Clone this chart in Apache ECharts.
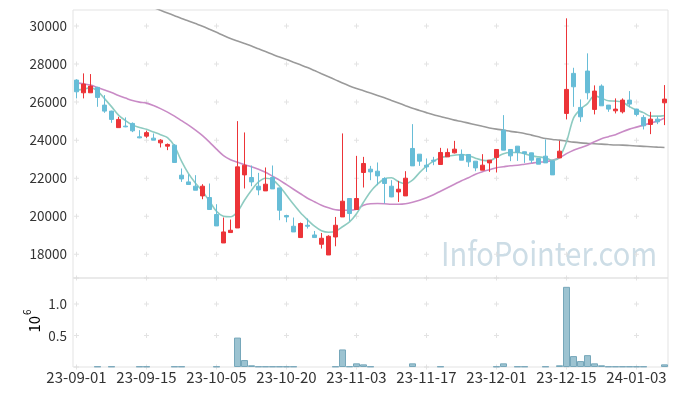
<!DOCTYPE html>
<html><head><meta charset="utf-8">
<script src="https://cdn.jsdelivr.net/npm/echarts@6/dist/echarts.min.js"></script>
<style>html,body{margin:0;padding:0;background:#fff}#c{width:677px;height:396px}</style>
</head><body><div id="c"></div>
<script>
const dates = ['23-09-01','23-09-04','23-09-05','23-09-06','23-09-07','23-09-08','23-09-11','23-09-12','23-09-13','23-09-14',
'23-09-15','23-09-18','23-09-19','23-09-20','23-09-21','23-09-22','23-09-25','23-09-26','23-09-27','23-10-04',
'23-10-05','23-10-06','23-10-10','23-10-11','23-10-12','23-10-13','23-10-16','23-10-17','23-10-18','23-10-19',
'23-10-20','23-10-23','23-10-24','23-10-25','23-10-26','23-10-27','23-10-30','23-10-31','23-11-01','23-11-02',
'23-11-03','23-11-06','23-11-07','23-11-08','23-11-09','23-11-10','23-11-13','23-11-14','23-11-15','23-11-16',
'23-11-17','23-11-20','23-11-21','23-11-22','23-11-23','23-11-24','23-11-27','23-11-28','23-11-29','23-11-30',
'23-12-01','23-12-04','23-12-05','23-12-06','23-12-07','23-12-08','23-12-11','23-12-12','23-12-13','23-12-14',
'23-12-15','23-12-18','23-12-19','23-12-20','23-12-21','23-12-22','23-12-26','23-12-27','23-12-28','24-01-02',
'24-01-03','24-01-04','24-01-05','24-01-08','24-01-09'];

const opens = [27158,26490,26490,26774,25842,25526,24658,24737,24880,24174,
24210,24105,23858,23684,23737,22158,21805,21579,21068,20984,
20090,18595,19142,19384,22174,22037,21579,21332,22037,21490,
20037,19474,18879,19526,19016,18526,17963,18910,19963,20932,
20353,22300,22474,22368,21984,21579,21279,21068,23563,23263,
22684,22947,22721,23121,23332,23247,23247,22895,22421,22805,
23090,24526,23510,23684,23390,23332,23037,23158,22910,23068,
25405,27510,25721,27632,25616,26842,25842,25542,25490,26105,
25632,25195,24826,25105,25963];
const closes = [26542,26947,26842,26247,25526,25090,25090,24700,24490,24121,
24395,24000,24000,23774,22826,21963,21668,21368,21579,20353,
19490,19174,19263,22595,22684,21805,21384,21684,21437,20316,
19963,19174,19616,19474,18879,18842,18947,19526,20790,20142,
20932,22774,22332,22121,21721,21016,21421,22000,22647,22895,
22595,22895,23353,23353,23526,22947,22858,22542,22684,22947,
23510,23474,23174,23353,23300,22947,22737,22805,22174,23421,
26668,26805,25226,26490,26579,25805,25632,25632,26105,25895,
25353,24753,25105,24963,26158];
const lows = [26195,26195,26490,25753,25437,24910,24658,24680,24421,24100,
24120,24000,23616,23474,22826,21805,21668,21368,20895,20353,
19490,18595,19142,19384,21458,21579,21105,21332,21437,19790,
19684,19174,18879,19353,18879,18300,17963,18421,19963,19753,
20353,21510,21895,21632,20668,21000,20753,21068,22647,22647,
22332,22684,22721,23121,23300,22947,22595,22368,22421,22332,
22300,23474,22895,22910,22805,22800,22737,22800,22174,23068,
25090,25753,24963,26142,25353,25805,25490,25405,25405,25721,
25250,24563,24316,24842,24790];
const highs = [27200,27510,27474,26800,26368,25550,25226,25195,24932,24526,
24500,24352,24050,23826,23790,22510,22210,22158,21684,21721,
20632,19932,19826,25000,24405,22668,22279,22563,22668,21490,
20050,19932,19670,19879,19226,19121,19000,19963,24353,20950,
23174,23121,22647,22826,22050,21895,21858,22368,24842,23263,
23037,23121,23595,23563,23963,23510,23260,22900,23263,22960,
23520,25316,23520,23690,23400,23340,23040,24037,22920,23963,
30405,27805,26142,28563,26879,26932,25850,26195,26195,26579,
25650,25316,25490,25263,26895];

const volumes = [0,0,0,8000,0,8000,0,0,0,8000,
8000,0,0,0,8000,8000,0,0,0,0,
8000,0,0,466000,110000,27000,8000,8000,8000,8000,
8000,8000,0,0,0,0,0,8000,278000,10000,
58000,42000,8000,0,0,0,0,0,58000,0,
0,0,8000,0,0,0,0,0,0,0,
8000,58000,0,8000,8000,0,0,8000,0,27000,
1270000,173000,94000,188000,58000,27000,8000,8000,8000,8000,
8000,8000,0,0,42000];

const maShort = [26632,26668,26763,26579,26184,25763,25316,25026,24790,24669,
24569,24427,24285,24132,23684,22895,22237,21737,21316,20790,
20263,20000,19974,20237,20842,21368,21805,22000,21921,21579,
21105,20632,20184,19816,19474,19237,19158,19210,19447,19700,
20132,20737,21290,21684,21974,22026,21816,21710,21895,22290,
22632,22895,23079,23158,23210,23247,23184,23053,22947,22921,
23105,23290,23353,23353,23290,23174,23121,23068,22947,23105,
23910,25158,25632,25921,26342,26210,26068,26053,26000,25763,
25579,25447,25263,25263,25290];
const maMid = [27016,26958,26895,26763,26632,26500,26342,26211,26079,26000,
25947,25816,25658,25474,25263,25026,24790,24526,24237,23895,
23526,23184,22974,22842,22711,22605,22474,22316,22105,21895,
21658,21421,21184,20947,20763,20579,20447,20342,20316,20316,
20368,20579,20658,20668,20658,20632,20632,20658,20737,20842,
20974,21132,21316,21500,21684,21869,22026,22211,22342,22447,
22553,22605,22658,22684,22737,22790,22842,22868,22947,23079,
23290,23474,23605,23737,23921,24079,24184,24290,24447,24579,
24684,24790,24895,25000,25158];
const maLong = [null,null,null,null,null,null,null,null,null,null,
null,30974,30826,30684,30542,30395,30263,30126,29989,29832,
29668,29500,29342,29211,29079,28947,28800,28658,28511,28368,
28237,28095,27958,27816,27658,27495,27332,27168,27000,26853,
26721,26600,26474,26353,26226,26089,25953,25811,25674,25563,
25447,25337,25247,25147,25053,24979,24895,24811,24726,24642,
24579,24526,24463,24411,24353,24263,24174,24084,24037,24000,
23947,23895,23858,23832,23811,23790,23768,23747,23737,23716,
23695,23674,23653,23632,23616];

const priceTicks = [18000,20000,22000,24000,26000,28000,30000];
const volTicks = [500000,1000000];
const xTickEvery = 10;

const FONT = 'Noto Sans CJK KR';
const candleData = opens.map((o,i)=>[o, closes[i], lows[i], highs[i]]);
const volData = volumes.map(v => v > 0 ? v : null);
const xTickCats = dates.filter((d,i)=> i % xTickEvery === 0);
const PMIN = 16753, PMAX = 30842, VMAX = 1410000;
const crossP = [];
xTickCats.forEach(c=>{ priceTicks.concat([PMIN]).forEach(v=>crossP.push([c,v])); });
const crossV = [];
xTickCats.forEach(c=>{ [0].concat(volTicks).forEach(v=>crossV.push([c,v])); });
const plus = 'path://M2,0H3V2H5V3H3V5H2V3H0V2H2Z';

const chart = echarts.init(document.getElementById('c'), null, {renderer:'canvas'});
chart.setOption({
  animation:false,
  backgroundColor:'#fff',
  grid:[
    {left:73, top:10, right:9, height:268, show:true, borderColor:'#e3e3e3', borderWidth:1},
    {left:73, top:278, right:9, height:89, show:true, borderColor:'#e3e3e3', borderWidth:1}
  ],
  xAxis:[
    {type:'category', gridIndex:0, data:dates, boundaryGap:true,
     axisLine:{show:false}, axisTick:{show:false}, axisLabel:{show:false}, splitLine:{show:false}},
    {type:'category', gridIndex:1, data:dates, boundaryGap:true,
     axisLine:{show:false}, axisTick:{show:false}, splitLine:{show:false},
     axisLabel:{interval:xTickEvery-1, color:'#333', fontFamily:FONT, fontSize:15, margin:3}}
  ],
  yAxis:[
    {type:'value', gridIndex:0, min:PMIN, max:PMAX, scale:true,
     axisLine:{show:false}, axisTick:{show:false}, splitLine:{show:false},
     axisLabel:{customValues:priceTicks, color:'#333', fontFamily:FONT, fontSize:13.5, margin:6,
       formatter:v=>String(v)}},
    {type:'value', gridIndex:1, min:0, max:VMAX,
     axisLine:{show:false}, axisTick:{show:false}, splitLine:{show:false},
     axisLabel:{customValues:volTicks, color:'#333', fontFamily:FONT, fontSize:13.5, margin:6,
       formatter:v=>(v/1e6).toFixed(1)}}
  ],
  graphic:[
    {type:'text', left:441, top:237, z:0, silent:true, scaleX:0.88,
     style:{text:'InfoPointer.com', font:'33px "Noto Sans CJK KR"', fill:'#cddde6'}},
    {type:'text', x:32, y:321, rotation:Math.PI/2, silent:true,
     style:{text:'{a|10}{b|6}', align:'center', verticalAlign:'middle',
       rich:{a:{fontFamily:FONT, fontSize:15, color:'#333', lineHeight:20, verticalAlign:'bottom'},
             b:{fontFamily:FONT, fontSize:10, color:'#333', lineHeight:20, verticalAlign:'top', padding:[0,0,0,1]}}}}
  ],
  series:[
    {type:'scatter', xAxisIndex:0, yAxisIndex:0, data:crossP, symbol:plus, symbolSize:5, clip:false,
     itemStyle:{color:'#dcdcdc'}, silent:true, z:1},
    {type:'scatter', xAxisIndex:1, yAxisIndex:1, data:crossV, symbol:plus, symbolSize:5, clip:false,
     itemStyle:{color:'#dcdcdc'}, silent:true, z:1},
    {type:'line', xAxisIndex:0, yAxisIndex:0, data:maLong, showSymbol:false, smooth:0.3,
     lineStyle:{color:'#9a9a9a', width:1.6}, z:2},
    {type:'line', xAxisIndex:0, yAxisIndex:0, data:maMid, showSymbol:false, smooth:0.3,
     lineStyle:{color:'#c98bc6', width:1.6}, z:2},
    {type:'line', xAxisIndex:0, yAxisIndex:0, data:maShort, showSymbol:false, smooth:0.3,
     lineStyle:{color:'#8ecbc1', width:1.6}, z:2},
    {type:'candlestick', xAxisIndex:0, yAxisIndex:0, data:candleData, barWidth:5, z:3,
     itemStyle:{color:'#ec3438', color0:'#67bdd7', borderColor:'#ec3438', borderColor0:'#67bdd7', borderWidth:1}},
    {type:'bar', xAxisIndex:1, yAxisIndex:1, data:volData, barCategoryGap:'0%', z:3,
     itemStyle:{color:'#9cc3d1', borderColor:'#76a7ba', borderWidth:1}}
  ]
});
</script></body></html>
